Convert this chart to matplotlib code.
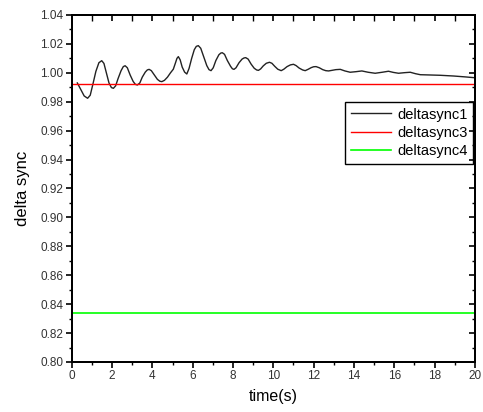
import matplotlib
matplotlib.use("Agg")
import matplotlib.pyplot as plt
from matplotlib.ticker import MultipleLocator

plt.rcParams['font.family'] = ['Liberation Sans', 'DejaVu Sans']

# Rotor angle response of generator 1 (per unit) over time
time_s = [0.28, 0.45, 0.62, 0.79, 0.92, 1.05, 1.20, 1.35, 1.49, 1.60,
          1.72, 1.85, 1.97, 2.07, 2.18, 2.30, 2.45, 2.56, 2.65, 2.76,
          2.90, 3.05, 3.16, 3.26, 3.38, 3.50, 3.65, 3.75, 3.84, 3.95,
          4.10, 4.25, 4.37, 4.47, 4.60, 4.75, 4.90, 5.04, 5.15, 5.22,
          5.29, 5.38, 5.48, 5.60, 5.71, 5.82, 5.95, 6.08, 6.18, 6.28,
          6.40, 6.55, 6.70, 6.81, 6.91, 7.02, 7.15, 7.30, 7.40, 7.47,
          7.58, 7.72, 7.88, 7.97, 8.05, 8.15, 8.30, 8.45, 8.55, 8.63,
          8.75, 8.90, 9.05, 9.17, 9.26, 9.37, 9.50, 9.65, 9.81, 9.93,
          10.07, 10.22, 10.39, 10.52, 10.68, 10.85, 11.00, 11.13, 11.28, 11.45,
          11.58, 11.72, 11.88, 12.00, 12.12, 12.28, 12.45, 12.60, 12.74, 12.90,
          13.10, 13.32, 13.55, 13.81, 14.10, 14.39, 14.70, 15.05, 15.40, 15.71,
          15.95, 16.21, 16.50, 16.79, 17.05, 17.29, 17.80, 18.28, 18.94, 19.50,
          20.00]
deltasync1 = [0.9930, 0.9885, 0.9840, 0.9824, 0.9845, 0.9920, 1.0010, 1.0070, 1.0084, 1.0065,
              1.0000, 0.9930, 0.9898, 0.9893, 0.9910, 0.9960, 1.0015, 1.0043, 1.0049, 1.0035,
              0.9985, 0.9940, 0.9920, 0.9916, 0.9930, 0.9970, 1.0005, 1.0020, 1.0024, 1.0015,
              0.9985, 0.9955, 0.9942, 0.9939, 0.9948, 0.9970, 1.0000, 1.0025, 1.0070, 1.0100,
              1.0112, 1.0090, 1.0040, 1.0005, 0.9992, 1.0030, 1.0100, 1.0160, 1.0183, 1.0188,
              1.0170, 1.0110, 1.0050, 1.0022, 1.0015, 1.0035, 1.0085, 1.0125, 1.0137, 1.0139,
              1.0128, 1.0085, 1.0045, 1.0028, 1.0024, 1.0035, 1.0070, 1.0095, 1.0103, 1.0105,
              1.0095, 1.0060, 1.0032, 1.0020, 1.0017, 1.0027, 1.0048, 1.0066, 1.0073, 1.0066,
              1.0045, 1.0025, 1.0015, 1.0025, 1.0043, 1.0055, 1.0059, 1.0050, 1.0033, 1.0020,
              1.0015, 1.0024, 1.0036, 1.0042, 1.0043, 1.0035, 1.0022, 1.0015, 1.0013, 1.0017,
              1.0022, 1.0024, 1.0013, 1.0004, 1.0008, 1.0013, 1.0004, 0.9997, 1.0004, 1.0011,
              1.0003, 0.9997, 1.0001, 1.0004, 0.9994, 0.9987, 0.9985, 0.9983, 0.9978, 0.9972,
              0.9966]

# Constant references
time_span = [0.0, 20.0]
deltasync3 = [0.9925, 0.9925]
deltasync4 = [0.8342, 0.8342]

x_ticks = [0, 2, 4, 6, 8, 10, 12, 14, 16, 18, 20]
y_ticks = [0.80, 0.82, 0.84, 0.86, 0.88, 0.90, 0.92, 0.94, 0.96, 0.98, 1.00, 1.02, 1.04]

fig = plt.figure(figsize=(4.83, 4.12), dpi=100)
ax = fig.add_axes([0.1484, 0.1214, 0.835, 0.8422])

ax.plot(time_s, deltasync1, color='#222222', lw=1.0, label='deltasync1')
ax.plot(time_span, deltasync3, color='#ff0000', lw=1.0, label='deltasync3')
ax.plot(time_span, deltasync4, color='#00ff00', lw=1.2, label='deltasync4')

ax.set_xlim(0, 20)
ax.set_ylim(0.80, 1.04)
ax.set_xticks(x_ticks)
ax.set_yticks(y_ticks)
ax.set_yticklabels([f"{v:.2f}" for v in y_ticks])
ax.xaxis.set_minor_locator(MultipleLocator(1))
ax.yaxis.set_minor_locator(MultipleLocator(0.01))
ax.tick_params(which='major', direction='out', length=4, width=1.2,
               labelsize=8.5, labelcolor='#333333', pad=2)
ax.tick_params(which='minor', direction='out', length=2.5, width=1.0)
for s in ax.spines.values():
    s.set_linewidth(1.3)

# Mirrored inward ticks on the top and right edges
axr = ax.twinx()
axr.set_ylim(ax.get_ylim())
axr.set_yticks(y_ticks)
axr.yaxis.set_minor_locator(MultipleLocator(0.01))
axr.tick_params(which='major', direction='in', length=4, width=1.2, labelright=False)
axr.tick_params(which='minor', direction='in', length=2.5, width=1.0)
axt = ax.twiny()
axt.set_xlim(ax.get_xlim())
axt.set_xticks(x_ticks)
axt.xaxis.set_minor_locator(MultipleLocator(1))
axt.tick_params(which='major', direction='in', length=4, width=1.2, labeltop=False)
axt.tick_params(which='minor', direction='in', length=4, width=1.0)
for a in (axr, axt):
    for s in a.spines.values():
        s.set_linewidth(1.3)

ax.set_xlabel('time(s)', fontsize=11.5, labelpad=5)
ax.set_ylabel('delta sync', fontsize=12, labelpad=7)

leg = ax.legend(loc='upper right', bbox_to_anchor=(0.996, 0.75), borderaxespad=0,
                fontsize=10.5, frameon=True, fancybox=False, framealpha=1,
                edgecolor='black', borderpad=0.4, handlelength=2.7,
                handletextpad=0.45, labelspacing=0.3)
leg.get_frame().set_linewidth(1.0)

fig.savefig('out.png', dpi=100)
